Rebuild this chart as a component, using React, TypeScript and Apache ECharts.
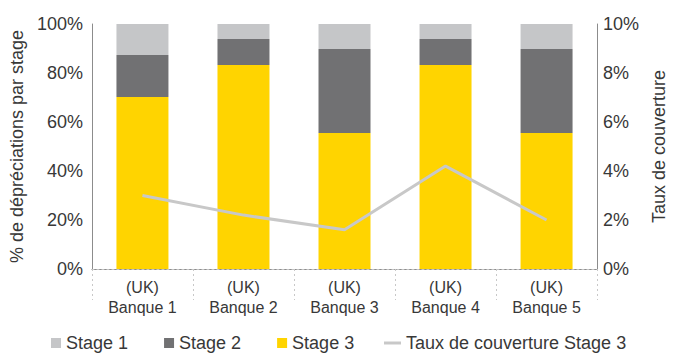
import React, { useEffect, useRef } from "react";
import * as echarts from "echarts";

// Banks and impairment split by IFRS 9 stage (% of total impairments)
const banks = ["(UK)\nBanque 1", "(UK)\nBanque 2", "(UK)\nBanque 3", "(UK)\nBanque 4", "(UK)\nBanque 5"];
const stage1 = [12.7, 6.1, 10.2, 6.1, 10.2];
const stage2 = [17.1, 10.6, 34.3, 10.6, 34.3];
const stage3 = [70.2, 83.3, 55.5, 83.3, 55.5];
// Stage 3 coverage ratio (%) on the right axis
const coverage = [3.0, 2.2, 1.6, 4.2, 2.0];

const FONT = "'Liberation Sans', Arial, sans-serif";
const TEXT = "#383838";
const AXIS = "#8c8c8c";

export default function App() {
  const ref = useRef<HTMLDivElement>(null);

  useEffect(() => {
    document.body.style.margin = "0";
    if (!ref.current) return;
    const chart = echarts.init(ref.current, null, { renderer: "svg" });
    chart.setOption({
      animation: false,
      textStyle: { fontFamily: FONT, color: TEXT },
      grid: { left: 89, right: 73, top: 24, bottom: 85 },
      legend: [
        {
          left: 46,
          top: 329,
          itemWidth: 10,
          itemHeight: 10,
          itemGap: 36,
          icon: "rect",
          textStyle: { fontFamily: FONT, fontSize: 18, color: TEXT },
          data: ["Stage 1", "Stage 2", "Stage 3"],
        },
        {
          left: 379,
          top: 329,
          itemWidth: 17,
          itemHeight: 3,
          icon: "rect",
          textStyle: { fontFamily: FONT, fontSize: 18, color: TEXT },
          data: ["Taux de couverture Stage 3"],
        },
      ],
      xAxis: [
        {
          type: "category",
          data: banks,
          axisLine: { show: true, lineStyle: { color: AXIS, width: 1 } },
          axisTick: {
            show: true,
            interval: 0,
            length: 31,
            lineStyle: { color: "#c8c8c8", type: [2, 3], width: 1 },
          },
          axisLabel: {
            interval: 0,
            margin: 8,
            fontSize: 16,
            lineHeight: 20,
            color: TEXT,
            fontFamily: FONT,
          },
        },
        {
          type: "category",
          data: banks,
          position: "top",
          axisLine: { show: true, lineStyle: { color: "#c4c4c4", type: [2, 3], width: 1 } },
          axisTick: { show: false },
          axisLabel: { show: false },
        },
      ],
      yAxis: [
        {
          type: "value",
          min: 0,
          max: 100,
          interval: 20,
          name: "% de dépréciations par stage",
          nameLocation: "middle",
          nameGap: 58,
          nameTextStyle: { fontSize: 18, color: TEXT, fontFamily: FONT },
          axisLine: { show: true, lineStyle: { color: AXIS, width: 1 } },
          axisTick: { show: false },
          splitLine: { show: false },
          axisLabel: { formatter: "{value}%", fontSize: 18, color: TEXT, margin: 9, fontFamily: FONT },
        },
        {
          type: "value",
          min: 0,
          max: 10,
          interval: 2,
          position: "right",
          name: "Taux de couverture",
          nameLocation: "middle",
          nameGap: 43,
          nameTextStyle: { fontSize: 18, color: TEXT, fontFamily: FONT },
          axisLine: { show: true, lineStyle: { color: AXIS, width: 1 } },
          axisTick: { show: false },
          splitLine: { show: false },
          axisLabel: { formatter: "{value}%", fontSize: 18, color: TEXT, margin: 6, fontFamily: FONT },
        },
      ],
      series: [
        {
          name: "Stage 3",
          type: "bar",
          stack: "stages",
          barWidth: 52,
          data: stage3,
          itemStyle: { color: "#FFD400" },
        },
        {
          name: "Stage 2",
          type: "bar",
          stack: "stages",
          barWidth: 52,
          data: stage2,
          itemStyle: { color: "#717173" },
        },
        {
          name: "Stage 1",
          type: "bar",
          stack: "stages",
          barWidth: 52,
          data: stage1,
          itemStyle: { color: "#C5C6C8" },
        },
        {
          name: "Taux de couverture Stage 3",
          type: "line",
          yAxisIndex: 1,
          data: coverage,
          symbol: "none",
          lineStyle: { color: "#C8C8C8", width: 3 },
          itemStyle: { color: "#C8C8C8" },
          z: 5,
        },
      ],
    });
    return () => chart.dispose();
  }, []);

  return <div ref={ref} style={{ width: 676, height: 354 }} />;
}
